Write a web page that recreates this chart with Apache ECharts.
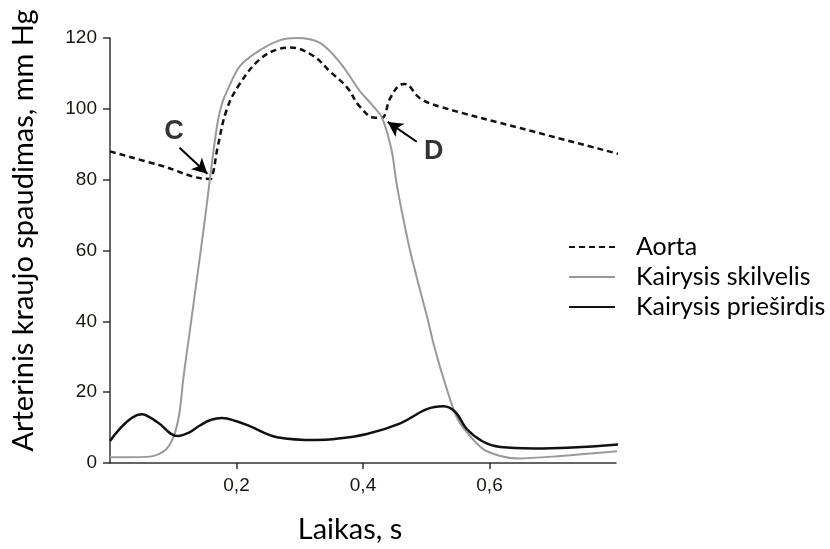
<!DOCTYPE html>
<html>
<head>
<meta charset="utf-8">
<script src="https://cdn.jsdelivr.net/npm/echarts@6/dist/echarts.min.js"></script>
<style>
  html, body { margin: 0; padding: 0; background: #fff; }
  #chart { width: 830px; height: 549px; }
</style>
</head>
<body>
<div id="chart"></div>
<script>
// [laikas s, spaudimas mm Hg]
const aorta = [
  [0, 88], [0.08, 84], [0.158, 80.2], [0.163, 82], [0.170, 89], [0.185, 100],
  [0.205, 107], [0.237, 114], [0.269, 117], [0.285, 117.3], [0.321, 115],
  [0.348, 110.5], [0.375, 106], [0.395, 100.6], [0.419, 97.5], [0.430, 97.5],
  [0.443, 103], [0.459, 106.8], [0.466, 107], [0.490, 103], [0.522, 100.6],
  [0.65, 94.5], [0.81, 87]
]
const skilvelis = [
  [0, 1.6], [0.063, 1.8], [0.089, 3.9], [0.102, 8.2], [0.110, 14.4], [0.116, 24],
  [0.126, 37], [0.137, 51.5], [0.148, 66], [0.160, 83], [0.165, 90], [0.171, 97],
  [0.178, 102], [0.185, 105], [0.205, 112], [0.237, 116.6], [0.269, 119.4],
  [0.295, 120], [0.332, 118.6], [0.364, 113], [0.395, 105], [0.415, 101],
  [0.430, 97.5], [0.445, 88.5], [0.453, 79], [0.463, 69.6], [0.474, 60.3],
  [0.487, 51], [0.501, 41.5], [0.514, 32], [0.534, 20], [0.548, 13], [0.564, 8.7],
  [0.590, 3.9], [0.617, 2], [0.644, 1.3], [0.70, 1.8], [0.807, 3.4]
]
const prieshirdis = [
  [0, 6.2], [0.050, 13.8], [0.075, 11.5], [0.107, 7.6], [0.125, 8.6], [0.142, 10.6],
  [0.160, 12.2], [0.177, 12.7], [0.200, 11.8], [0.221, 10.4], [0.264, 7.3], [0.327, 6.5],
  [0.352, 6.7], [0.406, 8.2], [0.459, 11.2], [0.501, 15.2], [0.527, 16], [0.546, 14.4],
  [0.564, 9.6], [0.590, 6], [0.617, 4.5], [0.669, 4.1], [0.723, 4.3], [0.807, 5.3]
]
const xTicks = [0.2, 0.4, 0.6]
// taskai C ir D: raide ir rodykle
const notes = [
  { name: 'C', value: [0.101, 93.5] },
  { name: 'D', value: [0.512, 87.9] }
]
const arrows = [
  [[0.110, 89.0], [0.154, 81.7]],
  [[0.485, 90.7], [0.439, 96.3]]
]

const calibri = 'Lato, "Open Sans", sans-serif'
const arial = '"Liberation Sans", Arial, sans-serif'
const chart = echarts.init(document.getElementById('chart'))

chart.setOption({
  animation: false,
  grid: { left: 110, right: 214, top: 38, bottom: 85 },
  legend: {
    orient: 'vertical',
    left: 563,
    top: 229,
    itemWidth: 46,
    itemHeight: 14,
    itemGap: 4,
    itemStyle: { opacity: 0 },
    data: ['Aorta', 'Kairysis skilvelis', 'Kairysis prieširdis'],
    textStyle: { fontFamily: calibri, fontSize: 25, color: '#000', lineHeight: 26, padding: [0, 0, 0, 16] }
  },
  xAxis: {
    type: 'value',
    min: 0,
    max: 0.8,
    interval: 0.2,
    name: 'Laikas, s',
    nameLocation: 'middle',
    nameGap: 52,
    nameTextStyle: { fontFamily: calibri, fontSize: 29, color: '#000', padding: [0, 26, 0, 0] },
    axisLine: { lineStyle: { color: '#333', width: 1.5 } },
    axisTick: { customValues: xTicks, length: 6, lineStyle: { color: '#333', width: 1.5 } },
    axisLabel: {
      customValues: xTicks,
      margin: 13,
      fontFamily: arial,
      fontSize: 19,
      color: '#1a1410',
      formatter: v => String(v).replace('.', ',')
    },
    splitLine: { show: false }
  },
  yAxis: {
    type: 'value',
    min: 0,
    max: 120,
    interval: 20,
    name: 'Arterinis kraujo spaudimas, mm Hg',
    nameLocation: 'middle',
    nameGap: 72,
    nameTextStyle: { fontFamily: calibri, fontSize: 29, color: '#000', padding: [0, 0, 0, 40] },
    axisLine: { show: true, lineStyle: { color: '#333', width: 1.5 } },
    axisTick: { show: true, length: 7, lineStyle: { color: '#333', width: 1.5 } },
    axisLabel: { margin: 13, fontFamily: arial, fontSize: 19, color: '#1a1410' },
    splitLine: { show: false }
  },
  series: [
    {
      name: 'Aorta',
      type: 'line',
      data: aorta,
      smooth: 0.4,
      symbol: 'none',
      clip: false,
      lineStyle: { color: '#111', width: 2.5, type: [6, 4] },
      itemStyle: { color: '#111' }
    },
    {
      name: 'Kairysis skilvelis',
      type: 'line',
      data: skilvelis,
      smooth: 0.3,
      symbol: 'none',
      clip: false,
      lineStyle: { color: '#999', width: 2 },
      itemStyle: { color: '#999' }
    },
    {
      name: 'Kairysis prieširdis',
      type: 'line',
      data: prieshirdis,
      smooth: 0.4,
      symbol: 'none',
      clip: false,
      lineStyle: { color: '#111', width: 2.5 },
      itemStyle: { color: '#111' }
    },
    {
      name: 'notes',
      type: 'scatter',
      data: notes,
      symbolSize: 0,
      label: {
        show: true,
        position: 'inside',
        formatter: '{b}',
        fontFamily: arial,
        fontWeight: 'bold',
        fontSize: 27,
        color: '#000'
      },
      markLine: {
        silent: true,
        symbol: ['none', 'arrow'],
        symbolSize: [12, 15],
        label: { show: false },
        lineStyle: { color: '#000', width: 2, type: 'solid' },
        data: arrows.map(a => [{ coord: a[0] }, { coord: a[1] }])
      }
    }
  ]
})
</script>
</body>
</html>
